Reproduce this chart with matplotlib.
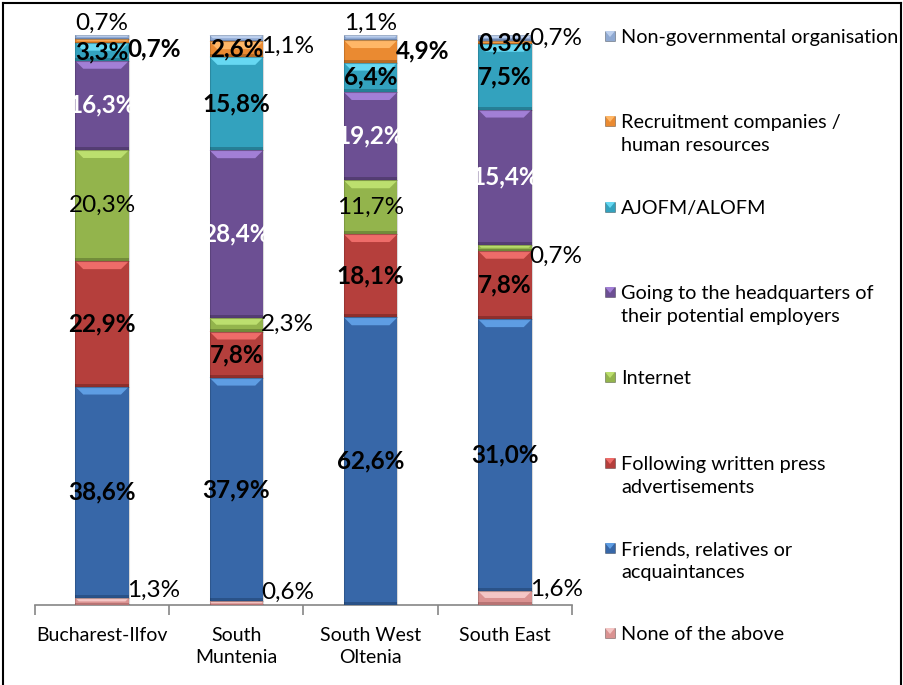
import matplotlib
matplotlib.use("Agg")
import matplotlib.pyplot as plt
from matplotlib.patches import Polygon, Rectangle
from matplotlib.lines import Line2D
import numpy as np

plt.rcParams['font.family'] = ['Lato', 'DejaVu Sans']

# Regions (x categories)
categories = ["Bucharest-Ilfov", "South\nMuntenia", "South West\nOltenia", "South East"]

# Series, stacked from the bottom up (percent of respondents)
none_of_above = [1.3, 0.6, 0.0, 1.6]
friends = [38.6, 37.9, 62.6, 31.0]
press_ads = [22.9, 7.8, 18.1, 7.8]
internet = [20.3, 2.3, 11.7, 0.7]
headquarters = [16.3, 28.4, 19.2, 15.4]
ajofm = [3.3, 15.8, 6.4, 7.5]
recruitment = [0.7, 2.6, 4.9, 0.3]
ngo = [0.7, 1.1, 1.1, 0.7]

series_names = [
    "None of the above",
    "Friends, relatives or\nacquaintances",
    "Following written press\nadvertisements",
    "Internet",
    "Going to the headquarters of\ntheir potential employers",
    "AJOFM/ALOFM",
    "Recruitment companies /\nhuman resources",
    "Non-governmental organisation",
]
series_values = [none_of_above, friends, press_ads, internet,
                 headquarters, ajofm, recruitment, ngo]

# main fill, bevel highlight, bevel shadow
main_colors = ['#DA9291', '#3767A8', '#B53F3C', '#93B44C',
               '#6C4F93', '#33A2BE', '#EA8A31', '#8FA9D2']
light_colors = ['#F4C6C5', '#5E9DE3', '#EE6C69', '#BCDF6E',
                '#A27FD6', '#66D8F2', '#FFB767', '#BDD0EE']
dark_colors = ['#B87474', '#2A5288', '#8E2F2D', '#728C3A',
               '#543D73', '#267F96', '#B96C25', '#7088AE']
label_colors = ['black', 'black', 'black', 'black', 'white', 'black', 'black', 'black']
label_weights = ['normal', 'bold', 'bold', 'normal', 'bold', 'bold', 'bold', 'normal']

# label placement per series per region: c = centre, r = right of bar, t = above bar
label_place = [
    ['r', 'r', None, 'r'],
    ['c', 'c', 'c', 'c'],
    ['c', 'c', 'c', 'c'],
    ['c', 'r', 'c', 'r'],
    ['c', 'c', 'c', 'c'],
    ['c', 'c', 'c', 'c'],
    ['r', 'c', 'r', 'c'],
    ['t', 'r', 't', 'r'],
]
# vertical nudges (pixels, positive = up) for labels set beside the bar
label_nudge = {(0, 0): 11, (0, 1): 11, (0, 3): 9,
               (3, 3): -9, (6, 0): -8, (7, 1): -8, (6, 2): 0}

W, H = 904, 685
fig = plt.figure(figsize=(W / 100, H / 100), dpi=100)
ax_l, ax_r, ax_t, ax_b = 35, 572, 35, 605
ax = fig.add_axes([ax_l / W, 1 - ax_b / H, (ax_r - ax_l) / W, (ax_b - ax_t) / H])

data = np.array(series_values, dtype=float)
shares = data / data.sum(axis=0) * 100
x = np.arange(len(categories))
bar_w = 0.4

ax.set_xlim(-0.5, len(categories) - 0.5)
ax.set_ylim(0, 100)

px_y = 100 / (ax_b - ax_t)
px_x = len(categories) / (ax_r - ax_l)
bev_y = 8 * px_y
bev_x = 8 * px_x
shade_y = 3 * px_y

bottom = np.zeros(len(categories))
for i, vals in enumerate(shares):
    ax.bar(x, vals, bar_w, bottom=bottom, color=main_colors[i],
           edgecolor='none', zorder=2)
    for j, (xc, h, b0) in enumerate(zip(x, vals, bottom)):
        if h <= 0:
            continue
        top = b0 + h
        left, right = xc - bar_w / 2, xc + bar_w / 2
        # darker lower rim
        hs = min(shade_y, h * 0.3)
        ax.add_patch(Rectangle((left, b0), bar_w, hs, facecolor=dark_colors[i],
                               edgecolor='none', zorder=3))
        # light top bevel
        hb = min(bev_y, h * 0.5)
        inset = bev_x * hb / bev_y
        ax.add_patch(Polygon([(left, top), (right, top), (right - inset, top - hb),
                              (left + inset, top - hb)], closed=True,
                             facecolor=light_colors[i], edgecolor='none', zorder=3))
        ax.add_patch(Rectangle((left, b0), bar_w, h, facecolor='none',
                               edgecolor=(0, 0, 0, 0.15), linewidth=0.8, zorder=4))
    # data labels
    for j, (xc, h, b0) in enumerate(zip(x, vals, bottom)):
        place = label_place[i][j]
        if place is None:
            continue
        txt = f"{series_values[i][j]:.1f}%".replace('.', ',')
        kw = dict(fontsize=17.5, color=label_colors[i], fontweight=label_weights[i], zorder=6)
        dy = label_nudge.get((i, j), 0) * px_y
        if place == 'c':
            ax.text(xc, b0 + h / 2 + dy, txt, ha='center', va='center', **kw)
        elif place == 'r':
            ax.text(xc + bar_w / 2 - 2 * px_x, b0 + h / 2 + dy, txt, ha='left', va='center', **kw)
        else:
            ax.text(xc, b0 + h + 1.0 * px_y, txt, ha='center', va='bottom', **kw)
    bottom += vals

# axes styling: only the baseline with separators between regions
for s in ['top', 'right', 'left']:
    ax.spines[s].set_visible(False)
ax.spines['bottom'].set_color('#868686')
ax.spines['bottom'].set_linewidth(1.2)
ax.set_yticks([])
ax.set_xticks(x)
ax.set_xticklabels(categories, fontsize=14, linespacing=1.35)
ax.tick_params(axis='x', which='major', length=0, pad=16)
ax.set_xticks(np.arange(-0.5, len(categories)), minor=True)
ax.tick_params(axis='x', which='minor', length=7, color='#868686', width=1.2)

# legend, top entry first
legend_y = [36, 121, 207, 292, 377, 463, 548, 633]
for k, yy in enumerate(legend_y):
    i = len(series_names) - 1 - k
    fig.patches.append(Rectangle((605 / W, 1 - (yy + 5) / H), 10 / W, 10 / H,
                                 transform=fig.transFigure, facecolor=main_colors[i],
                                 edgecolor=(0, 0, 0, 0.35), linewidth=0.6))
    fig.patches.append(Polygon([(605 / W, 1 - (yy - 5) / H), (615 / W, 1 - (yy - 5) / H),
                                (610 / W, 1 - (yy + 1) / H)], closed=True,
                               transform=fig.transFigure, facecolor=light_colors[i],
                               edgecolor='none'))
    fig.text(621 / W, 1 - (yy - 7) / H, series_names[i], fontsize=14.3,
             ha='left', va='top', linespacing=1.4)

# outer frame
for (x0, y0, x1, y1) in [(3, 3, 901, 3), (3, 3, 3, 685), (901, 3, 901, 685)]:
    fig.add_artist(Line2D([x0 / W, x1 / W], [1 - y0 / H, 1 - y1 / H],
                          transform=fig.transFigure, color='black', linewidth=1.5))

fig.savefig("out.png", dpi=100)
